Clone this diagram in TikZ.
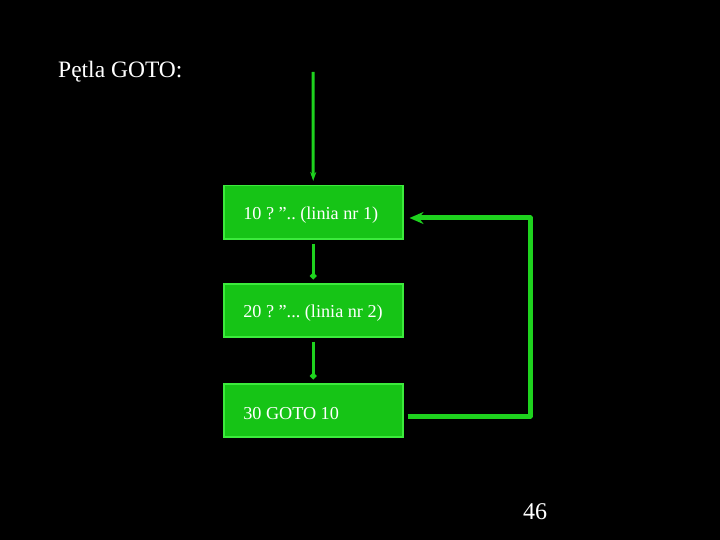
\documentclass[tikz,border=0pt]{standalone}
\usepackage{fontspec}
\setmainfont{Liberation Serif}
\usetikzlibrary{arrows.meta}
\definecolor{boxgreen}{RGB}{22,196,22}
\definecolor{edgegreen}{RGB}{60,235,60}
\definecolor{linegreen}{RGB}{30,210,30}
\newcommand{\boxtext}[1]{\raisebox{-3pt}[\height][\depth]{\makebox[140pt][l]{#1}}}
\tikzset{
  stepbox/.style={rectangle, fill=boxgreen, draw=edgegreen, line width=1.5pt,
    minimum width=179pt, minimum height=53pt, inner xsep=19.5pt,
    text=white, font=\frenchspacing\fontsize{18.2}{20}\selectfont, anchor=north west},
  flowline/.style={draw=linegreen, line width=3pt},
  loopline/.style={draw=linegreen, line width=5pt},
  label/.style={text=white, inner sep=0pt}
}
\begin{document}
\begin{tikzpicture}[x=1pt,y=-1pt]
\fill[black] (0,0) rectangle (720,540);
\useasboundingbox (0,0) rectangle (720,540);
\node[label, anchor=base west, font=\fontsize{23.5}{26}\selectfont] (title) at (58,78) {Pętla GOTO:};
\node[label, anchor=base west, font=\fontsize{24}{26}\selectfont] (page) at (523,519) {46};
\node[stepbox] (b1) at (223,185) {\boxtext{10 ? ”.. (linia nr 1)}};
\node[stepbox] (b2) at (223,283) {\boxtext{20 ? ”... (linia nr 2)}};
\node[stepbox] (b3) at (223,383) {\boxtext{30 GOTO 10}};
\coordinate (start) at (313,72);
\coordinate (rtop) at (530,218);
\coordinate (rbot) at (530,416);
\draw[flowline, -{Stealth[length=9pt,width=6pt]}, shorten >=4pt] (start) -- (b1.north);
\draw[flowline, -{Circle[length=6pt]}, shorten <=4pt, shorten >=4pt] (b1.south) -- (b2.north);
\draw[flowline, -{Circle[length=6pt]}, shorten <=4pt, shorten >=4pt] (b2.south) -- (b3.north);
\draw[loopline, line join=round, -{Stealth[length=14pt,width=12pt]}]
  ([xshift=4pt]b3.east |- rbot) -- (rbot) -- (rtop) -- ([xshift=6pt]b1.east |- rtop);
\end{tikzpicture}
\end{document}
